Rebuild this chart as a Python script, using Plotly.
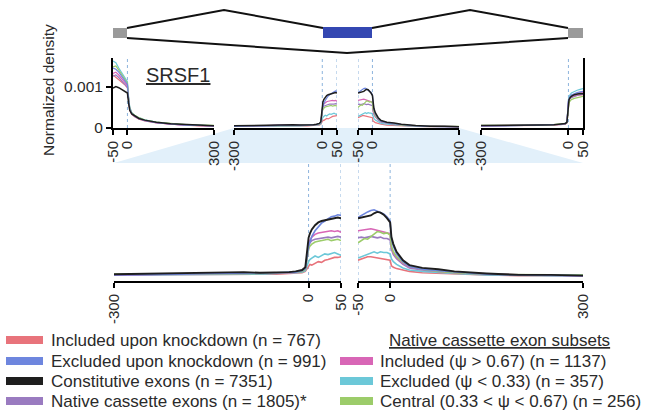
import plotly.graph_objects as go

W, H = 647, 414


def X(px):
    return px / W


def Y(py):
    return 1 - py / H


# ---------------- data (normalized density, units of 1e-3) ----------------
KEYS = ["red", "blue", "black", "purple", "pink", "cyan", "green"]
COLORS = {"red": "#E8737B", "blue": "#6E86DE", "black": "#1E1E1E", "purple": "#9A7BC0",
          "pink": "#D866B6", "cyan": "#6CC8D8", "green": "#9CCC6A"}
LABELS = {"red": "Included upon knockdown", "blue": "Excluded upon knockdown",
          "black": "Constitutive exons", "purple": "Native cassette exons",
          "pink": "Included (ψ > 0.67)", "cyan": "Excluded (ψ < 0.33)",
          "green": "Central (0.33 < ψ < 0.67)"}
LEGEND_N = {"red": 767, "blue": 991, "black": 7351, "purple": 1805, "pink": 1137,
            "cyan": 357, "green": 256}

# Segment A: upstream exon 5' splice site (-50..300)
POS_A = [-50, -40, -30, -20, -10, 0, 4, 8, 15, 25, 40, 60, 100, 150, 200, 250, 300]
A_BLACK = [0.96, 1.00, 0.97, 0.93, 0.88, 0.84, 0.60, 0.42, 0.33, 0.28, 0.22, 0.18, 0.13, 0.09, 0.07, 0.05, 0.04]
A_CYAN = [1.62, 1.58, 1.45, 1.35, 1.22, 1.12, 0.75, 0.50, 0.36, 0.30, 0.24, 0.19, 0.13, 0.09, 0.07, 0.05, 0.04]
A_GREEN = [1.48, 1.50, 1.40, 1.30, 1.18, 1.08, 0.72, 0.48, 0.36, 0.30, 0.24, 0.18, 0.13, 0.10, 0.07, 0.06, 0.05]
A_BLUE = [1.45, 1.42, 1.35, 1.25, 1.15, 1.05, 0.70, 0.46, 0.35, 0.28, 0.22, 0.17, 0.12, 0.09, 0.06, 0.05, 0.04]
A_PINK = [1.32, 1.35, 1.28, 1.20, 1.10, 1.02, 0.68, 0.45, 0.34, 0.28, 0.22, 0.17, 0.12, 0.08, 0.06, 0.05, 0.04]
A_PURPLE = [1.25, 1.28, 1.22, 1.15, 1.06, 0.98, 0.66, 0.44, 0.33, 0.27, 0.21, 0.17, 0.12, 0.08, 0.06, 0.05, 0.04]
A_RED = [1.28, 1.22, 1.18, 1.12, 1.05, 0.97, 0.64, 0.42, 0.32, 0.26, 0.20, 0.16, 0.11, 0.08, 0.06, 0.04, 0.03]

# Segment B: cassette exon 3' splice site (-300..50)
POS_B = [-300, -250, -200, -150, -100, -75, -50, -30, -20, -10, -5, 0, 2, 5, 10, 15, 20, 25, 30, 35, 40, 45, 50]
B_BLACK = [0.04, 0.05, 0.05, 0.06, 0.07, 0.06, 0.06, 0.07, 0.08, 0.10, 0.14, 0.56, 0.62, 0.68, 0.74, 0.78, 0.80, 0.81, 0.82, 0.83, 0.84, 0.85, 0.84]
B_BLUE = [0.03, 0.03, 0.04, 0.05, 0.05, 0.05, 0.06, 0.07, 0.07, 0.09, 0.12, 0.44, 0.50, 0.58, 0.66, 0.72, 0.77, 0.80, 0.83, 0.86, 0.87, 0.89, 0.88]
B_PINK = [0.03, 0.04, 0.04, 0.05, 0.05, 0.05, 0.06, 0.06, 0.07, 0.09, 0.12, 0.46, 0.52, 0.57, 0.61, 0.63, 0.64, 0.65, 0.65, 0.66, 0.65, 0.66, 0.64]
B_PURPLE = [0.03, 0.04, 0.04, 0.05, 0.05, 0.05, 0.05, 0.06, 0.07, 0.08, 0.11, 0.46, 0.49, 0.52, 0.54, 0.55, 0.56, 0.57, 0.57, 0.56, 0.57, 0.58, 0.57]
B_GREEN = [0.04, 0.04, 0.04, 0.05, 0.05, 0.05, 0.06, 0.06, 0.07, 0.08, 0.11, 0.40, 0.44, 0.47, 0.50, 0.51, 0.52, 0.53, 0.54, 0.52, 0.53, 0.54, 0.52]
B_CYAN = [0.03, 0.03, 0.03, 0.04, 0.04, 0.04, 0.05, 0.05, 0.06, 0.07, 0.09, 0.22, 0.25, 0.27, 0.30, 0.28, 0.31, 0.33, 0.32, 0.34, 0.35, 0.33, 0.31]
B_RED = [0.03, 0.03, 0.03, 0.04, 0.04, 0.04, 0.04, 0.05, 0.05, 0.06, 0.08, 0.16, 0.18, 0.17, 0.20, 0.22, 0.21, 0.24, 0.25, 0.27, 0.28, 0.28, 0.29]

# Segment C: cassette exon 5' splice site (-50..300)
POS_C = [-50, -45, -40, -35, -30, -25, -20, -15, -10, -5, 0, 2, 5, 10, 20, 30, 50, 75, 100, 150, 200, 250, 300]
C_BLACK = [0.84, 0.85, 0.86, 0.86, 0.88, 0.91, 0.93, 0.92, 0.89, 0.84, 0.78, 0.57, 0.47, 0.36, 0.24, 0.17, 0.13, 0.11, 0.08, 0.05, 0.03, 0.03, 0.02]
C_BLUE = [0.85, 0.88, 0.90, 0.93, 0.95, 0.96, 0.94, 0.92, 0.90, 0.86, 0.80, 0.55, 0.44, 0.33, 0.22, 0.15, 0.11, 0.09, 0.07, 0.04, 0.03, 0.02, 0.02]
C_PINK = [0.66, 0.67, 0.68, 0.68, 0.69, 0.68, 0.67, 0.66, 0.65, 0.64, 0.62, 0.42, 0.34, 0.28, 0.20, 0.14, 0.11, 0.08, 0.06, 0.04, 0.03, 0.03, 0.02]
C_GREEN = [0.49, 0.52, 0.55, 0.54, 0.58, 0.62, 0.65, 0.64, 0.62, 0.63, 0.60, 0.44, 0.36, 0.29, 0.21, 0.15, 0.11, 0.08, 0.06, 0.04, 0.03, 0.03, 0.03]
C_PURPLE = [0.56, 0.57, 0.56, 0.57, 0.58, 0.57, 0.56, 0.57, 0.55, 0.55, 0.53, 0.40, 0.32, 0.26, 0.18, 0.13, 0.10, 0.08, 0.06, 0.04, 0.03, 0.02, 0.02]
C_CYAN = [0.27, 0.29, 0.31, 0.33, 0.35, 0.36, 0.34, 0.36, 0.35, 0.35, 0.33, 0.26, 0.22, 0.18, 0.13, 0.10, 0.08, 0.06, 0.05, 0.03, 0.02, 0.02, 0.02]
C_RED = [0.24, 0.26, 0.27, 0.29, 0.29, 0.28, 0.28, 0.27, 0.26, 0.25, 0.24, 0.16, 0.14, 0.12, 0.10, 0.08, 0.06, 0.05, 0.04, 0.03, 0.02, 0.02, 0.02]

# Segment D: downstream exon 3' splice site (-300..50)
POS_D = [-300, -250, -200, -150, -100, -50, -25, -10, -5, 0, 2, 5, 10, 20, 30, 40, 50]
D_BLACK = [0.05, 0.05, 0.05, 0.06, 0.06, 0.07, 0.08, 0.10, 0.13, 0.62, 0.68, 0.72, 0.76, 0.80, 0.81, 0.83, 0.82]
D_BLUE = [0.04, 0.04, 0.05, 0.05, 0.06, 0.07, 0.08, 0.10, 0.13, 0.65, 0.70, 0.74, 0.79, 0.83, 0.85, 0.87, 0.88]
D_CYAN = [0.04, 0.04, 0.05, 0.05, 0.06, 0.07, 0.08, 0.11, 0.14, 0.68, 0.74, 0.79, 0.84, 0.88, 0.91, 0.93, 0.95]
D_PINK = [0.04, 0.05, 0.05, 0.05, 0.06, 0.06, 0.08, 0.10, 0.12, 0.63, 0.69, 0.73, 0.77, 0.80, 0.82, 0.84, 0.85]
D_RED = [0.04, 0.04, 0.04, 0.05, 0.05, 0.06, 0.07, 0.09, 0.12, 0.60, 0.66, 0.70, 0.74, 0.77, 0.78, 0.79, 0.80]
D_PURPLE = [0.04, 0.04, 0.05, 0.05, 0.06, 0.06, 0.07, 0.09, 0.12, 0.61, 0.66, 0.70, 0.73, 0.76, 0.78, 0.80, 0.81]
D_GREEN = [0.05, 0.05, 0.05, 0.06, 0.06, 0.07, 0.08, 0.10, 0.12, 0.55, 0.60, 0.64, 0.68, 0.71, 0.73, 0.75, 0.76]

SEG_A = {"red": A_RED, "blue": A_BLUE, "black": A_BLACK, "purple": A_PURPLE, "pink": A_PINK, "cyan": A_CYAN, "green": A_GREEN}
SEG_B = {"red": B_RED, "blue": B_BLUE, "black": B_BLACK, "purple": B_PURPLE, "pink": B_PINK, "cyan": B_CYAN, "green": B_GREEN}
SEG_C = {"red": C_RED, "blue": C_BLUE, "black": C_BLACK, "purple": C_PURPLE, "pink": C_PINK, "cyan": C_CYAN, "green": C_GREEN}
SEG_D = {"red": D_RED, "blue": D_BLUE, "black": D_BLACK, "purple": D_PURPLE, "pink": D_PINK, "cyan": D_CYAN, "green": D_GREEN}

TICKS_UP = [-50, 0, 300]
TICKS_DN = [-300, 0, 50]

# ---------------- figure ----------------
fig = go.Figure()
DRAW_ORDER = ["red", "cyan", "purple", "pink", "green", "blue", "black"]

panels = [
    (POS_A, SEG_A, "x", "y", 1.2),
    (POS_B, SEG_B, "x2", "y2", 1.2),
    (POS_C, SEG_C, "x3", "y3", 1.2),
    (POS_D, SEG_D, "x4", "y4", 1.2),
    (POS_B, SEG_B, "x5", "y5", 1.6),
    (POS_C, SEG_C, "x6", "y6", 1.6),
]
for pos, seg, xa, ya, lw in panels:
    for k in DRAW_ORDER:
        fig.add_trace(go.Scatter(x=pos, y=seg[k], mode="lines", xaxis=xa, yaxis=ya,
                                 line=dict(color=COLORS[k], width=lw + (0.3 if k == "black" else 0)),
                                 showlegend=False, hoverinfo="skip"))

FONT = "Liberation Sans, Arial, sans-serif"
TXT = "#2a2a2a"
TOP_RANGE = [-0.012, 1.695]
BOT_RANGE = [-0.057, 1.629]


def xax(d0, d1, rng, ticks, anchor):
    return dict(domain=[X(d0), X(d1)], range=rng, anchor=anchor, showgrid=False, zeroline=False,
                showline=True, linecolor="black", linewidth=2, ticks="outside", ticklen=5,
                tickwidth=2, tickcolor="black", tickvals=ticks, ticktext=[str(t) for t in ticks],
                tickangle=-90, tickfont=dict(size=15, color=TXT, family=FONT), fixedrange=True,
                automargin=False)


def yax(d0, d1, rng, anchor, **kw):
    base = dict(domain=[Y(d1), Y(d0)], range=rng, anchor=anchor, showgrid=False, zeroline=False,
                fixedrange=True, automargin=False)
    base.update(kw)
    return base


fig.update_layout(
    width=W, height=H, margin=dict(l=0, r=0, t=0, b=0, pad=0), autosize=False,
    paper_bgcolor="white", plot_bgcolor="rgba(0,0,0,0)",
    font=dict(family=FONT, color=TXT),
    xaxis=xax(113, 214, [-50, 300], TICKS_UP, "y"),
    yaxis=yax(58, 128, TOP_RANGE, "x", showline=True, linecolor="black", linewidth=2,
              ticks="outside", ticklen=5, tickwidth=2, tickcolor="black", tickvals=[0, 1],
              ticktext=["0", "0.001"], tickfont=dict(size=15.5, color=TXT, family=FONT)),
    xaxis2=xax(234, 337, [-300, 50], TICKS_DN, "y2"),
    yaxis2=yax(58, 128, TOP_RANGE, "x2", visible=False),
    xaxis3=xax(358, 459, [-50, 300], TICKS_UP, "y3"),
    yaxis3=yax(58, 128, TOP_RANGE, "x3", visible=False),
    xaxis4=xax(481, 583, [-300, 50], TICKS_DN, "y4"),
    yaxis4=yax(58, 128, TOP_RANGE, "x4", side="right", showline=True, linecolor="black",
               linewidth=2, showticklabels=False, ticks=""),
    xaxis5=xax(114, 341, [-300, 50], TICKS_DN, "y5"),
    yaxis5=yax(163, 281, BOT_RANGE, "x5", visible=False),
    xaxis6=xax(358, 583, [-50, 300], TICKS_UP, "y6"),
    yaxis6=yax(163, 281, BOT_RANGE, "x6", visible=False),
)

shapes = []
# light blue zoom trapezoid
shapes.append(dict(type="path", xref="paper", yref="paper", layer="below",
                   path=f"M {X(234)},{Y(128)} L {X(459)},{Y(128)} L {X(583)},{Y(163)} L {X(114)},{Y(163)} Z",
                   fillcolor="#E2F0FA", line=dict(width=0)))
# dotted guide lines
DOT = dict(color="#8DB4DD", width=1, dash="dot")
for xr, xv in [("x", 0), ("x2", 0), ("x2", 50), ("x3", -50), ("x3", 0), ("x4", 0)]:
    shapes.append(dict(type="line", xref=xr, yref="paper", x0=xv, x1=xv, y0=Y(128), y1=Y(58),
                       line=DOT, layer="below"))
for xr, xv in [("x5", 0), ("x5", 50), ("x6", -50), ("x6", 0)]:
    shapes.append(dict(type="line", xref=xr, yref="paper", x0=xv, x1=xv, y0=Y(281), y1=Y(163),
                       line=DOT, layer="below"))
# gene diagram
LINE = dict(color="#111111", width=2)
for pts in [[(127, 28), (224, 10), (323, 28)], [(372, 28), (470, 10), (568, 28)],
            [(127, 38), (347, 53), (568, 38)]]:
    path = "M " + " L ".join(f"{X(a)},{Y(b)}" for a, b in pts)
    shapes.append(dict(type="path", xref="paper", yref="paper", path=path, line=LINE))
for (a, b, c, d, col) in [(113, 28, 127, 38, "#9A9A9A"), (323, 27, 372, 38, "#3447B2"),
                          (568, 28, 583, 38, "#9A9A9A")]:
    shapes.append(dict(type="rect", xref="paper", yref="paper", x0=X(a), x1=X(c), y0=Y(d), y1=Y(b),
                       fillcolor=col, line=dict(width=0)))

annotations = []
annotations.append(dict(text="Normalized density", x=X(49), y=Y(90), xref="paper", yref="paper",
                        xanchor="center", yanchor="middle",
                        textangle=-90, showarrow=False, font=dict(size=15.5, color=TXT, family=FONT)))
annotations.append(dict(text="<u>SRSF1</u>", x=X(178), y=Y(75), xref="paper", yref="paper",
                        xanchor="center", yanchor="middle",
                        showarrow=False, font=dict(size=20, color=TXT, family=FONT)))

# legend
LEFT_ROWS = [("red", 340), ("blue", 361), ("black", 381), ("purple", 401)]
RIGHT_ROWS = [("pink", 361), ("cyan", 381), ("green", 401)]
for k, yc in LEFT_ROWS:
    shapes.append(dict(type="rect", xref="paper", yref="paper", x0=X(6), x1=X(43), y0=Y(yc + 4),
                       y1=Y(yc - 4), fillcolor=COLORS[k], line=dict(width=0)))
    suffix = "*" if k == "purple" else ""
    annotations.append(dict(text=f"{LABELS[k]} (n = {LEGEND_N[k]}){suffix}", x=X(49), y=Y(yc),
                            xref="paper", yref="paper", xanchor="left", yanchor="middle",
                            showarrow=False, font=dict(size=17, color=TXT, family=FONT)))
annotations.append(dict(text="<u>Native cassette exon subsets</u>", x=X(387), y=Y(340),
                        xref="paper", yref="paper", xanchor="left", yanchor="middle",
                        showarrow=False, font=dict(size=17, color=TXT, family=FONT)))
for k, yc in RIGHT_ROWS:
    shapes.append(dict(type="rect", xref="paper", yref="paper", x0=X(340), x1=X(373), y0=Y(yc + 4),
                       y1=Y(yc - 4), fillcolor=COLORS[k], line=dict(width=0)))
    annotations.append(dict(text=f"{LABELS[k]} (n = {LEGEND_N[k]})", x=X(378), y=Y(yc),
                            xref="paper", yref="paper", xanchor="left", yanchor="middle",
                            showarrow=False, font=dict(size=17, color=TXT, family=FONT)))

fig.update_layout(shapes=shapes, annotations=annotations)
fig.write_html("out.html", config={"displayModeBar": False},
               post_script="document.body.style.margin='0';document.body.style.padding='0';")
